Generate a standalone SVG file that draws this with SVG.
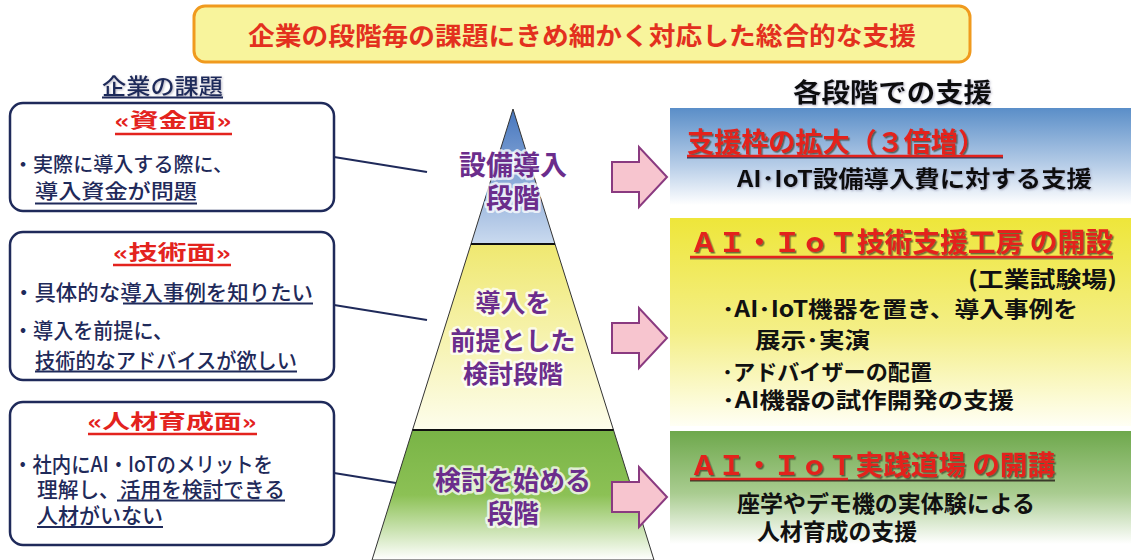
<svg xmlns="http://www.w3.org/2000/svg" width="1131" height="560" viewBox="0 0 1131 560">
<style>
.jp{font-family:"Noto Sans CJK JP","Noto Sans",sans-serif;font-weight:bold}
.md{font-weight:500}
.navy{fill:#1f2a5a}
.red{fill:#e3231e}
.blk{fill:#111}
.pur{fill:#6b2d8c;stroke:#ffffff;stroke-width:5;stroke-opacity:0.75;paint-order:stroke;stroke-linejoin:round}
.box{fill:#ffffff;stroke:#1f2a5a;stroke-width:2.5}
.ul{stroke:#1f2a5a;stroke-width:2}
.ulr{stroke:#e3231e;stroke-width:2.5}
.arrow{fill:#f7c5cf;stroke:#8a3a80;stroke-width:2}
.conn{stroke:#1f2a5a;stroke-width:2;fill:none}
</style>
<defs>
<linearGradient id="gBlue" x1="0" y1="0" x2="0" y2="1"><stop offset="0" stop-color="#5a8ec8"/><stop offset="0.6" stop-color="#b8cee8"/><stop offset="1" stop-color="#ffffff"/></linearGradient>
<linearGradient id="gYel" x1="0" y1="0" x2="0" y2="1"><stop offset="0" stop-color="#eee63a"/><stop offset="0.55" stop-color="#f4ef88"/><stop offset="1" stop-color="#fffff4"/></linearGradient>
<linearGradient id="gGrn" x1="0" y1="0" x2="0" y2="1"><stop offset="0" stop-color="#6ea84c"/><stop offset="0.55" stop-color="#a9cc90"/><stop offset="1" stop-color="#ffffff"/></linearGradient>
<linearGradient id="pBlue" x1="0" y1="0" x2="0" y2="1"><stop offset="0" stop-color="#4676be"/><stop offset="1" stop-color="#cadaef"/></linearGradient>
<linearGradient id="pYel" x1="0" y1="0" x2="0" y2="1"><stop offset="0" stop-color="#efe870"/><stop offset="1" stop-color="#fdfdec"/></linearGradient>
<linearGradient id="pGrn" x1="0" y1="0" x2="0" y2="1"><stop offset="0" stop-color="#79b446"/><stop offset="0.5" stop-color="#8cc155"/><stop offset="1" stop-color="#ffffff"/></linearGradient>
<filter id="sh" x="-5%" y="-20%" width="110%" height="150%"><feDropShadow dx="1.5" dy="1.5" stdDeviation="0.6" flood-color="#3a3a2a" flood-opacity="0.7"/></filter>
<filter id="shl" x="-5%" y="-20%" width="110%" height="150%"><feDropShadow dx="1" dy="1" stdDeviation="0.8" flood-color="#6a6a8a" flood-opacity="0.5"/></filter>
</defs>
<rect width="1131" height="560" fill="#ffffff"/>

<g id="title">
<rect x="194" y="6" width="776" height="56" rx="11" fill="#f8f49c" stroke="#f09a1e" stroke-width="3"/>
<text class="jp" x="582" y="45" font-size="25" fill="#e3301e" text-anchor="middle" textLength="668" lengthAdjust="spacingAndGlyphs">企業の段階毎の課題にきめ細かく対応した総合的な支援</text>
</g>

<g id="left-header">
<text class="jp navy md" x="102" y="94" font-size="22" textLength="121" lengthAdjust="spacingAndGlyphs" filter="url(#shl)">企業の課題</text>
<line class="ul" x1="102" y1="97.5" x2="223" y2="97.5" stroke-width="1.5"/>
</g>

<g id="right-header">
<text class="jp blk" x="793" y="102" font-size="26" textLength="199" lengthAdjust="spacingAndGlyphs" filter="url(#shl)">各段階での支援</text>
</g>

<g id="connectors">
<line class="conn" x1="334" y1="157" x2="427" y2="172"/>
<line class="conn" x1="334" y1="305" x2="427" y2="320"/>
<line class="conn" x1="334" y1="473" x2="427" y2="488"/>
</g>

<g id="issue-funds">
<rect class="box" x="10" y="103" width="324" height="108" rx="13"/>
<text class="jp red" x="173" y="128" font-size="20" text-anchor="middle" textLength="117" lengthAdjust="spacingAndGlyphs">«資金面»</text>
<line class="ulr" x1="115" y1="134" x2="232" y2="134"/>
<text class="jp navy md" x="13" y="172" font-size="20" textLength="220" lengthAdjust="spacingAndGlyphs">・実際に導入する際に、</text>
<text class="jp navy md" x="35" y="199" font-size="20" textLength="162" lengthAdjust="spacingAndGlyphs">導入資金が問題</text>
<line class="ul" x1="35" y1="203.5" x2="197" y2="203.5"/>
</g>

<g id="issue-tech">
<rect class="box" x="10" y="232" width="324" height="148" rx="13"/>
<text class="jp red" x="172" y="260" font-size="20" text-anchor="middle" textLength="118" lengthAdjust="spacingAndGlyphs">«技術面»</text>
<line class="ulr" x1="113" y1="265" x2="231" y2="265"/>
<text class="jp navy md" x="13" y="300" font-size="21" textLength="300" lengthAdjust="spacingAndGlyphs">・具体的な導入事例を知りたい</text>
<line class="ul" x1="123" y1="303.5" x2="313" y2="303.5"/>
<text class="jp navy md" x="13" y="338" font-size="21" textLength="160" lengthAdjust="spacingAndGlyphs">・導入を前提に、</text>
<text class="jp navy md" x="35" y="368" font-size="21" textLength="262" lengthAdjust="spacingAndGlyphs">技術的なアドバイスが欲しい</text>
<line class="ul" x1="35" y1="371.5" x2="297" y2="371.5"/>
</g>

<g id="issue-hr">
<rect class="box" x="10" y="402" width="324" height="143" rx="13"/>
<text class="jp red" x="172" y="429" font-size="20" text-anchor="middle" textLength="169" lengthAdjust="spacingAndGlyphs">«人材育成面»</text>
<line class="ulr" x1="88" y1="434" x2="257" y2="434"/>
<text class="jp navy md" x="13" y="472" font-size="21" textLength="260" lengthAdjust="spacingAndGlyphs">・社内にAI・IoTのメリットを</text>
<text class="jp navy md" x="37" y="497" font-size="21" textLength="248" lengthAdjust="spacingAndGlyphs">理解し、活用を検討できる</text>
<line class="ul" x1="117" y1="500.5" x2="285" y2="500.5"/>
<text class="jp navy md" x="37" y="523" font-size="21" textLength="126" lengthAdjust="spacingAndGlyphs">人材がいない</text>
<line class="ul" x1="37" y1="527" x2="163" y2="527"/>
</g>

<g id="pyramid-top">
<polygon points="513,109 555,244 471,244" fill="url(#pBlue)" stroke="#333" stroke-width="1"/>
<text class="jp pur" x="513" y="175" font-size="27" text-anchor="middle">設備導入</text>
<text class="jp pur" x="513" y="208" font-size="27" text-anchor="middle">段階</text>
</g>

<g id="pyramid-mid">
<polygon points="471,244 555,244 613.5,430 412.5,430" fill="url(#pYel)" stroke="#333" stroke-width="1"/>
<text class="jp pur" x="513" y="312" font-size="25" text-anchor="middle">導入を</text>
<text class="jp pur" x="513" y="350" font-size="25" text-anchor="middle">前提とした</text>
<text class="jp pur" x="513" y="383" font-size="25" text-anchor="middle">検討段階</text>
</g>

<g id="pyramid-bottom">
<polygon points="412.5,430 613.5,430 654,560 372,560" fill="url(#pGrn)" stroke="#333" stroke-width="1"/>
<line x1="471" y1="244" x2="555" y2="244" stroke="#111" stroke-width="1.8"/>
<line x1="412.5" y1="430" x2="613.5" y2="430" stroke="#111" stroke-width="1.8"/>
<text class="jp pur" x="513" y="490" font-size="26" text-anchor="middle">検討を始める</text>
<text class="jp pur" x="513" y="523" font-size="26" text-anchor="middle">段階</text>
</g>

<g id="arrows">
<path class="arrow" d="M612,162 H639 V147 L667,177 L639,207 V192 H612 Z"/>
<path class="arrow" d="M612,323 H639 V308 L667,338 L639,368 V353 H612 Z"/>
<path class="arrow" d="M612,482 H639 V467 L667,497 L639,527 V512 H612 Z"/>
</g>

<g id="support-equipment">
<rect x="670" y="108" width="461" height="97" fill="url(#gBlue)"/>
<text class="jp red" x="687" y="152" font-size="27" textLength="298" lengthAdjust="spacingAndGlyphs" filter="url(#sh)">支援枠の拡大（３倍増）</text>
<line x1="687" y1="157.5" x2="1003" y2="157.5" stroke="#3a3a5a" stroke-width="2"/>
<line class="ulr" x1="687" y1="156" x2="1003" y2="156"/>
<text class="jp blk" x="737" y="187" font-size="23" textLength="355" lengthAdjust="spacingAndGlyphs" filter="url(#shl)">AI･IoT設備導入費に対する支援</text>
</g>

<g id="support-workshop">
<rect x="670" y="218" width="461" height="208" fill="url(#gYel)"/>
<text class="jp red" x="690" y="252" font-size="27" textLength="423" lengthAdjust="spacingAndGlyphs" filter="url(#sh)">ＡＩ・ＩｏＴ技術支援工房 の開設</text>
<line x1="690" y1="258.5" x2="1113" y2="258.5" stroke="#8a8a50" stroke-width="2"/>
<line class="ulr" x1="690" y1="257" x2="1113" y2="257"/>
<text class="jp blk" x="968" y="287" font-size="22" textLength="149" lengthAdjust="spacingAndGlyphs">(工業試験場)</text>
<text class="jp blk" x="722" y="317" font-size="22" textLength="356" lengthAdjust="spacingAndGlyphs">･AI･IoT機器を置き、導入事例を</text>
<text class="jp blk" x="755" y="348" font-size="22" textLength="115" lengthAdjust="spacingAndGlyphs">展示･実演</text>
<text class="jp blk" x="722" y="380" font-size="22" textLength="210" lengthAdjust="spacingAndGlyphs">･アドバイザーの配置</text>
<text class="jp blk" x="722" y="408" font-size="22" textLength="292" lengthAdjust="spacingAndGlyphs">･AI機器の試作開発の支援</text>
</g>

<g id="support-dojo">
<rect x="670" y="431" width="461" height="113" fill="url(#gGrn)"/>
<text class="jp red" x="690" y="475" font-size="27" textLength="365" lengthAdjust="spacingAndGlyphs" filter="url(#sh)">ＡＩ・ＩｏＴ実践道場 の開講</text>
<line x1="690" y1="480.5" x2="1055" y2="480.5" stroke="#3a3a2a" stroke-width="2"/>
<line class="ulr" x1="690" y1="479" x2="848" y2="479"/>
<text class="jp blk" x="737" y="512" font-size="23" textLength="298" lengthAdjust="spacingAndGlyphs">座学やデモ機の実体験による</text>
<text class="jp blk" x="757" y="540" font-size="23" textLength="160" lengthAdjust="spacingAndGlyphs">人材育成の支援</text>
</g>
</svg>
